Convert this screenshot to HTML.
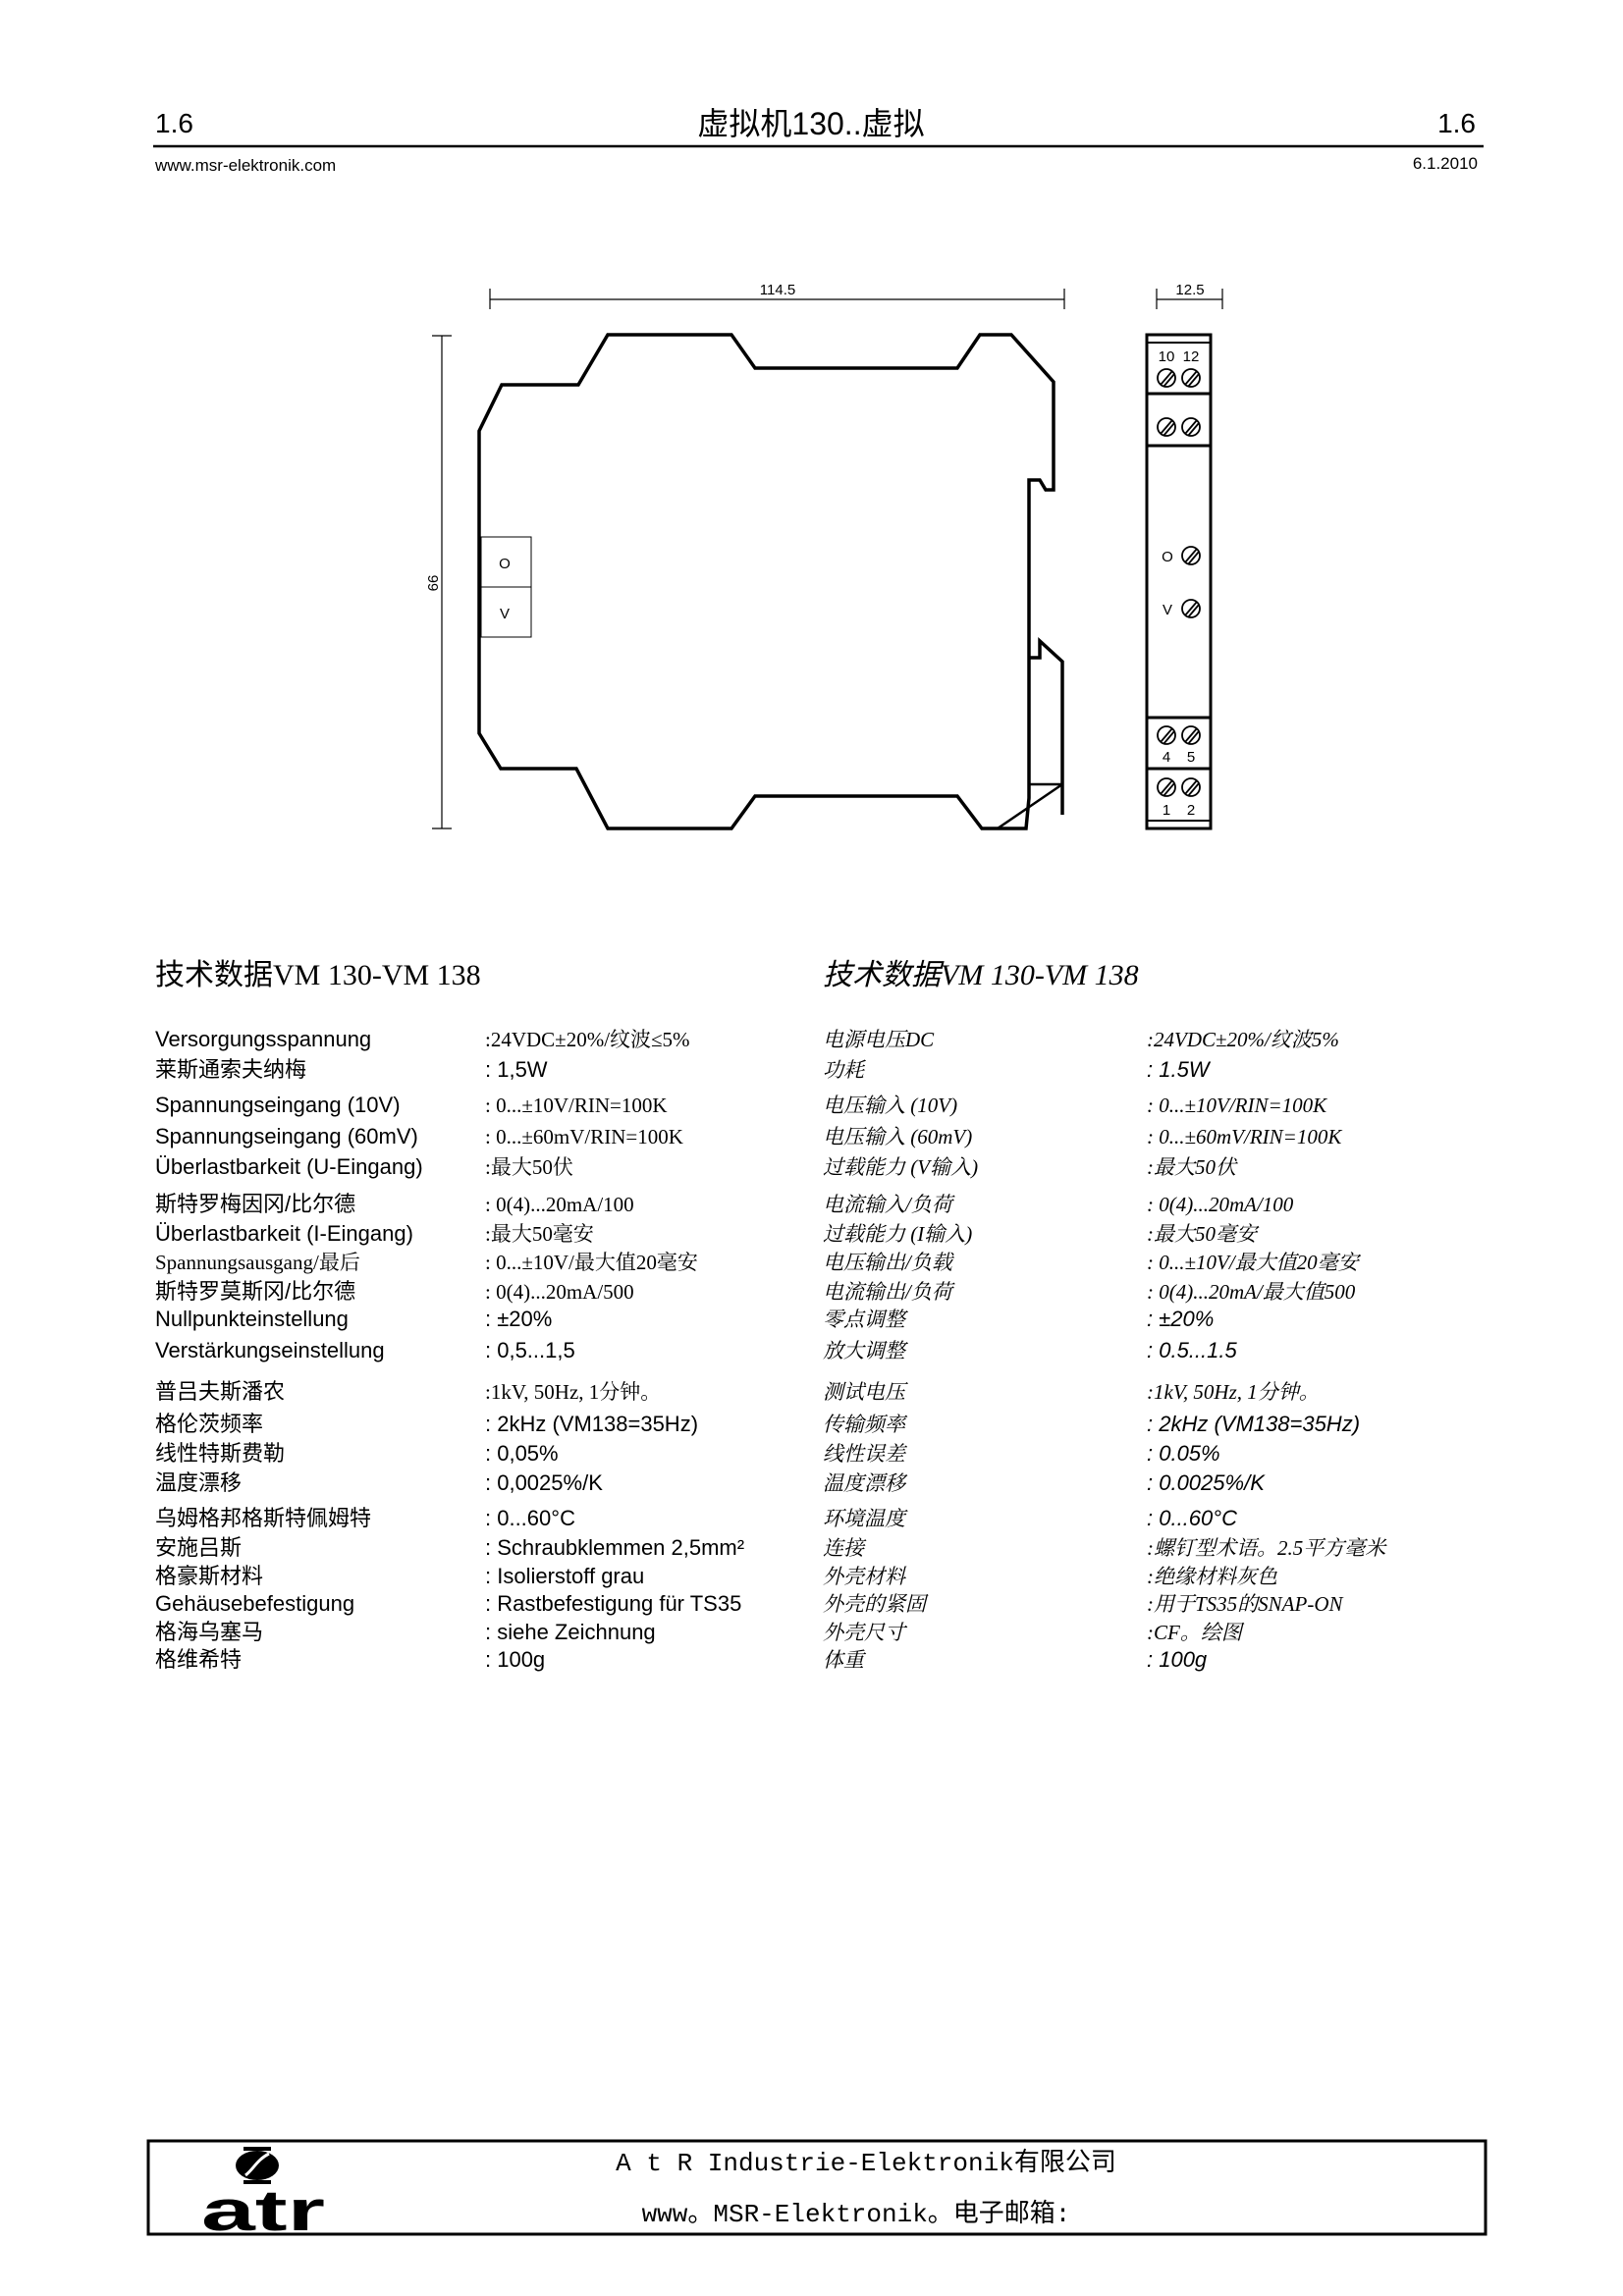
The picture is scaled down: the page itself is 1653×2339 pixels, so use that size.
<!DOCTYPE html>
<html><head><meta charset="utf-8"><style>
html,body{margin:0;padding:0;background:#fff;}
body{width:1653px;height:2339px;position:relative;overflow:hidden;}
svg{position:absolute;left:0;top:0;}
.t{font-family:"Liberation Sans","Noto Sans CJK SC",sans-serif;font-size:22px;fill:#000;}
.v{font-family:"Liberation Serif","Noto Serif CJK SC",serif;font-size:21px;fill:#000;}
.r{font-family:"Liberation Sans","Noto Sans CJK SC",sans-serif;font-size:22px;fill:#000;font-style:italic;}
.rv{font-family:"Liberation Serif","Noto Serif CJK SC",serif;font-size:21px;fill:#000;font-style:italic;}
.d{font-family:"Liberation Sans",sans-serif;font-size:15px;fill:#000;}
</style></head><body>
<svg width="1653" height="2339" viewBox="0 0 1653 2339">
<text x="158" y="135" font-family="Liberation Sans,sans-serif" font-size="28">1.6</text>
<text x="1503" y="135" font-family="Liberation Sans,sans-serif" font-size="28" text-anchor="end">1.6</text>
<text x="826" y="137" font-family="Liberation Sans,Noto Sans CJK SC,sans-serif" font-size="32" text-anchor="middle">虚拟机130..虚拟</text>
<line x1="156" y1="149" x2="1511" y2="149" stroke="#000" stroke-width="2.5"/>
<text x="158" y="174" font-family="Liberation Sans,sans-serif" font-size="17">www.msr-elektronik.com</text>
<text x="1505" y="172" font-family="Liberation Sans,sans-serif" font-size="17" text-anchor="end">6.1.2010</text>

<g stroke="#000" stroke-width="1.2" fill="none">
<line x1="499" y1="305" x2="1084" y2="305"/><line x1="499" y1="294" x2="499" y2="315"/><line x1="1084" y1="294" x2="1084" y2="315"/>
<line x1="1178" y1="305" x2="1245" y2="305"/><line x1="1178" y1="294" x2="1178" y2="315"/><line x1="1245" y1="294" x2="1245" y2="315"/>
<line x1="450" y1="342" x2="450" y2="844"/><line x1="440" y1="342" x2="460" y2="342"/><line x1="440" y1="844" x2="460" y2="844"/>
</g>
<text class="d" x="792" y="300" text-anchor="middle">114.5</text>
<text class="d" x="1212" y="300" text-anchor="middle">12.5</text>
<text class="d" x="0" y="0" text-anchor="middle" transform="translate(436,594) rotate(90)">99</text>

<g stroke="#000" stroke-width="3.5" fill="none" stroke-linejoin="miter">
<polyline points="1048,670 1048,489 1059,489 1065,499 1073,499 1073,389 1030,341 998,341 975,375 769,375 745,341 619,341 589,392 511,392 488,439 488,747 510,783 587,783 619,844 745,844 769,811 975,811 1000,844 1045,844 1048,813 1048,670 1059,670 1059,653 1082,674 1082,830"/>
<line x1="1048" y1="799" x2="1082" y2="799" stroke-width="2.5"/>
<line x1="1016" y1="844" x2="1082" y2="799" stroke-width="2.5"/>
</g>
<g stroke="#000" stroke-width="1" fill="none">
<rect x="490" y="547" width="51" height="102"/><line x1="490" y1="598" x2="541" y2="598"/>
</g>
<text class="d" x="514" y="579" text-anchor="middle" font-size="18">O</text>
<text class="d" x="514" y="630" text-anchor="middle" font-size="18">V</text>

<g stroke="#000" stroke-width="3" fill="none">
<rect x="1168" y="341" width="65" height="503"/>
<line x1="1168" y1="349" x2="1233" y2="349" stroke-width="2"/>
<line x1="1168" y1="401" x2="1233" y2="401"/>
<line x1="1168" y1="454" x2="1233" y2="454"/>
<line x1="1168" y1="731" x2="1233" y2="731"/>
<line x1="1168" y1="783" x2="1233" y2="783"/>
<line x1="1168" y1="836" x2="1233" y2="836" stroke-width="2"/>
</g>
<g stroke="#000" stroke-width="1.8" fill="none">
<circle cx="1188" cy="385" r="9"/><line x1="1182" y1="392" x2="1194" y2="378"/><line x1="1185" y1="394" x2="1196" y2="381"/>
<circle cx="1213" cy="385" r="9"/><line x1="1207" y1="392" x2="1219" y2="378"/><line x1="1210" y1="394" x2="1221" y2="381"/>
<circle cx="1188" cy="435" r="9"/><line x1="1182" y1="442" x2="1194" y2="428"/><line x1="1185" y1="444" x2="1196" y2="431"/>
<circle cx="1213" cy="435" r="9"/><line x1="1207" y1="442" x2="1219" y2="428"/><line x1="1210" y1="444" x2="1221" y2="431"/>
<circle cx="1213" cy="566" r="9"/><line x1="1207" y1="573" x2="1219" y2="559"/><line x1="1210" y1="575" x2="1221" y2="562"/>
<circle cx="1213" cy="620" r="9"/><line x1="1207" y1="627" x2="1219" y2="613"/><line x1="1210" y1="629" x2="1221" y2="616"/>
<circle cx="1188" cy="749" r="9"/><line x1="1182" y1="756" x2="1194" y2="742"/><line x1="1185" y1="758" x2="1196" y2="745"/>
<circle cx="1213" cy="749" r="9"/><line x1="1207" y1="756" x2="1219" y2="742"/><line x1="1210" y1="758" x2="1221" y2="745"/>
<circle cx="1188" cy="802" r="9"/><line x1="1182" y1="809" x2="1194" y2="795"/><line x1="1185" y1="811" x2="1196" y2="798"/>
<circle cx="1213" cy="802" r="9"/><line x1="1207" y1="809" x2="1219" y2="795"/><line x1="1210" y1="811" x2="1221" y2="798"/>
</g>
<g>
<text x="1188" y="368" text-anchor="middle" class="d" font-size="14">10</text><text x="1213" y="368" text-anchor="middle" class="d" font-size="14">12</text>
<text x="1188" y="776" text-anchor="middle" class="d" font-size="14">4</text><text x="1213" y="776" text-anchor="middle" class="d" font-size="14">5</text>
<text x="1188" y="830" text-anchor="middle" class="d" font-size="14">1</text><text x="1213" y="830" text-anchor="middle" class="d" font-size="14">2</text>
<text x="1189" y="572" text-anchor="middle" class="d" font-size="17">O</text>
<text x="1189" y="626" text-anchor="middle" class="d" font-size="17">V</text>
</g>

<g transform="translate(0,-7)">
<text x="158" y="1010" font-family="Liberation Serif,Noto Sans CJK SC,sans-serif" font-size="30">技术数据VM 130-VM 138</text>
<text x="838" y="1010" font-family="Liberation Serif,Noto Sans CJK SC,sans-serif" font-size="30" font-style="italic">技术数据VM 130-VM 138</text>

<g class="t">
<text x="158" y="1073">Versorgungsspannung</text>
<text x="158" y="1104">莱斯通索夫纳梅</text>
<text x="158" y="1140">Spannungseingang  (10V)</text>
<text x="158" y="1172">Spannungseingang  (60mV)</text>
<text x="158" y="1203">Überlastbarkeit  (U-Eingang)</text>
<text x="158" y="1241">斯特罗梅因冈/比尔德</text>
<text x="158" y="1271">Überlastbarkeit  (I-Eingang)</text>
<text x="158" y="1300" class="v">Spannungsausgang/最后</text>
<text x="158" y="1330">斯特罗莫斯冈/比尔德</text>
<text x="158" y="1358">Nullpunkteinstellung</text>
<text x="158" y="1390">Verstärkungseinstellung</text>
<text x="158" y="1432">普吕夫斯潘农</text>
<text x="158" y="1465">格伦茨频率</text>
<text x="158" y="1495">线性特斯费勒</text>
<text x="158" y="1525">温度漂移</text>
<text x="158" y="1561">乌姆格邦格斯特佩姆特</text>
<text x="158" y="1591">安施吕斯</text>
<text x="158" y="1620">格豪斯材料</text>
<text x="158" y="1648">Gehäusebefestigung</text>
<text x="158" y="1677">格海乌塞马</text>
<text x="158" y="1705">格维希特</text>
</g>
<g>
<text class="v" x="494" y="1073">:24VDC±20%/纹波≤5%</text>
<text class="t" x="494" y="1104">: 1,5W</text>
<text class="v" x="494" y="1140">:  0...±10V/RIN=100K</text>
<text class="v" x="494" y="1172">:  0...±60mV/RIN=100K</text>
<text class="v" x="494" y="1203">:最大50伏</text>
<text class="v" x="494" y="1241">:  0(4)...20mA/100</text>
<text class="v" x="494" y="1271">:最大50毫安</text>
<text class="v" x="494" y="1300">:  0...±10V/最大值20毫安</text>
<text class="v" x="494" y="1330">:  0(4)...20mA/500</text>
<text class="t" x="494" y="1358">: ±20%</text>
<text class="t" x="494" y="1390">: 0,5...1,5</text>
<text class="v" x="494" y="1432">:1kV, 50Hz, 1分钟。</text>
<text class="t" x="494" y="1465">: 2kHz (VM138=35Hz)</text>
<text class="t" x="494" y="1495">: 0,05%</text>
<text class="t" x="494" y="1525">: 0,0025%/K</text>
<text class="t" x="494" y="1561">: 0...60°C</text>
<text class="t" x="494" y="1591">: Schraubklemmen 2,5mm²</text>
<text class="t" x="494" y="1620">: Isolierstoff grau</text>
<text class="t" x="494" y="1648">: Rastbefestigung für TS35</text>
<text class="t" x="494" y="1677">: siehe Zeichnung</text>
<text class="t" x="494" y="1705">: 100g</text>
</g>
<g class="rv">
<text x="838" y="1073">电源电压DC</text>
<text x="838" y="1104">功耗</text>
<text x="838" y="1140">电压输入 (10V)</text>
<text x="838" y="1172">电压输入 (60mV)</text>
<text x="838" y="1203">过载能力 (V输入)</text>
<text x="838" y="1241">电流输入/负荷</text>
<text x="838" y="1271">过载能力 (I输入)</text>
<text x="838" y="1300">电压输出/负载</text>
<text x="838" y="1330">电流输出/负荷</text>
<text x="838" y="1358">零点调整</text>
<text x="838" y="1390">放大调整</text>
<text x="838" y="1432">测试电压</text>
<text x="838" y="1465">传输频率</text>
<text x="838" y="1495">线性误差</text>
<text x="838" y="1525">温度漂移</text>
<text x="838" y="1561">环境温度</text>
<text x="838" y="1591">连接</text>
<text x="838" y="1620">外壳材料</text>
<text x="838" y="1648">外壳的紧固</text>
<text x="838" y="1677">外壳尺寸</text>
<text x="838" y="1705">体重</text>
</g>
<g>
<text class="rv" x="1168" y="1073">:24VDC±20%/纹波5%</text>
<text class="r" x="1168" y="1104">: 1.5W</text>
<text class="rv" x="1168" y="1140">:  0...±10V/RIN=100K</text>
<text class="rv" x="1168" y="1172">:  0...±60mV/RIN=100K</text>
<text class="rv" x="1168" y="1203">:最大50伏</text>
<text class="rv" x="1168" y="1241">:  0(4)...20mA/100</text>
<text class="rv" x="1168" y="1271">:最大50毫安</text>
<text class="rv" x="1168" y="1300">:  0...±10V/最大值20毫安</text>
<text class="rv" x="1168" y="1330">:  0(4)...20mA/最大值500</text>
<text class="r" x="1168" y="1358">: ±20%</text>
<text class="r" x="1168" y="1390">: 0.5...1.5</text>
<text class="rv" x="1168" y="1432">:1kV, 50Hz, 1分钟。</text>
<text class="r" x="1168" y="1465">: 2kHz  (VM138=35Hz)</text>
<text class="r" x="1168" y="1495">: 0.05%</text>
<text class="r" x="1168" y="1525">: 0.0025%/K</text>
<text class="r" x="1168" y="1561">: 0...60°C</text>
<text class="rv" x="1168" y="1591">:螺钉型术语。2.5平方毫米</text>
<text class="rv" x="1168" y="1620">:绝缘材料灰色</text>
<text class="rv" x="1168" y="1648">:用于TS35的SNAP-ON</text>
<text class="rv" x="1168" y="1677">:CF。绘图</text>
<text class="r" x="1168" y="1705">: 100g</text>
</g>
</g>

<g transform="translate(0,-16)">
<rect x="151" y="2197" width="1362" height="95" fill="none" stroke="#000" stroke-width="3"/>
<ellipse cx="262" cy="2222" rx="22" ry="15" fill="#000"/>
<rect x="248" y="2203" width="28" height="4" fill="#000"/>
<rect x="248" y="2237" width="28" height="4" fill="#000"/>
<path d="M250,2232 C258,2226 262,2216 274,2210" stroke="#fff" stroke-width="3" fill="none"/>
<text x="205" y="2288" font-family="Liberation Sans,sans-serif" font-weight="bold" font-size="58" textLength="126" lengthAdjust="spacingAndGlyphs">atr</text>
<text x="882" y="2227" font-family="Liberation Mono,Noto Sans CJK SC,monospace" font-size="26" text-anchor="middle">A t R Industrie-Elektronik有限公司</text>
<text x="872" y="2279" font-family="Liberation Mono,Noto Sans CJK SC,monospace" font-size="26" text-anchor="middle">www。MSR-Elektronik。电子邮箱:</text>
</g>
</svg>
</body></html>
